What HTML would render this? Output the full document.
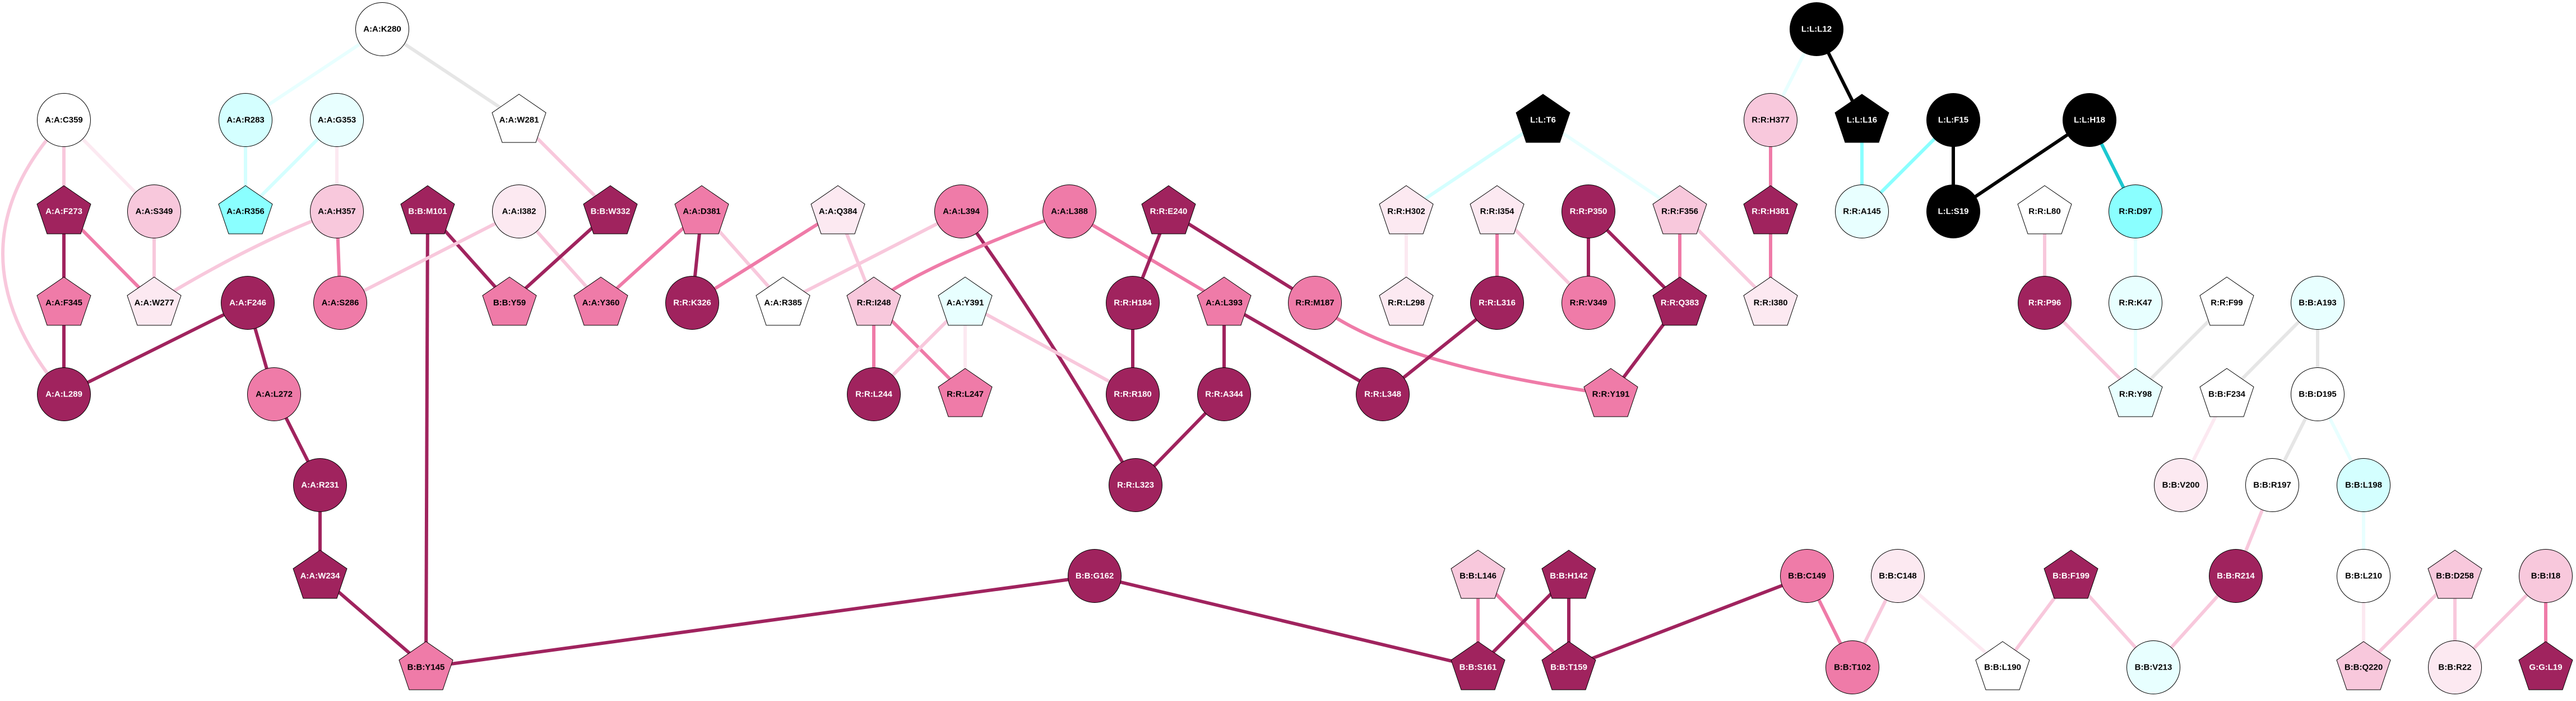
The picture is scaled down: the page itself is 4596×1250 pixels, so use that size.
<!DOCTYPE html>
<html><head><meta charset="utf-8"><style>
html,body{margin:0;padding:0;background:#fff;}
svg text{font-family:"Liberation Sans",Arial,sans-serif;font-weight:bold;font-size:15px;text-anchor:middle;dominant-baseline:central;}
</style></head><body>
<svg id="g" width="4596" height="1245" xmlns="http://www.w3.org/2000/svg"></svg>
<script>
const D='#A0235E',M='#EF7BA8',L='#F8C8DC',V='#FCE9F1',W='#FFFFFF',C='#8AFFFF',LC='#D4FFFF',VC='#E8FFFF',K='#000000',G='#E6E6E6',T='#1CC8D0';
const YM={48:52,198:214,348:377,499:540,649:703,799:865,949:1027,1099:1190};
const nodes=[
['A:A:K280',682,48,'c',W],['A:A:C359',114,198,'c',W],['A:A:R283',438,198,'c',LC],['A:A:G353',601,198,'c',VC],['A:A:W281',926,198,'p',W],
['A:A:F273',114,348,'p',D],['A:A:S349',275,348,'c',L],['A:A:R356',438,348,'p',C],['A:A:H357',601,348,'c',L],['B:B:M101',763,348,'p',D],['A:A:I382',926,348,'c',V],['B:B:W332',1089,348,'p',D],
['A:A:F345',114,499,'p',M],['A:A:W277',275,499,'p',V],['A:A:F246',442,499,'c',D],['A:A:S286',607,499,'c',M],['B:B:Y59',909,499,'p',M],['A:A:Y360',1072,499,'p',M],
['A:A:L289',114,649,'c',D],['A:A:L272',489,649,'c',M],['A:A:R231',571,799,'c',D],['A:A:W234',571,949,'p',D],['B:B:Y145',760,1099,'p',M],
['A:A:D381',1252,348,'p',M],['A:A:Q384',1495,348,'p',V],['A:A:L394',1715,348,'c',M],['A:A:L388',1908,348,'c',M],['R:R:E240',2085,348,'p',D],
['R:R:K326',1235,499,'c',D],['A:A:R385',1397,499,'p',W],['R:R:I248',1559,499,'p',L],['A:A:Y391',1722,499,'p',VC],['R:R:H184',2021,499,'c',D],['A:A:L393',2184,499,'p',M],
['R:R:L244',1559,649,'c',D],['R:R:L247',1722,649,'p',M],['R:R:R180',2021,649,'c',D],['R:R:A344',2184,649,'c',D],['R:R:L323',2026,799,'c',D],['B:B:G162',1953,949,'c',D],
['L:L:L12',3241,48,'c',K],['L:L:T6',2753,198,'p',K],['R:R:H377',3159,198,'c',L],['L:L:L16',3322,198,'p',K],
['R:R:H302',2509,348,'p',V],['R:R:I354',2671,348,'p',V],['R:R:P350',2834,348,'c',D],['R:R:F356',2997,348,'p',L],['R:R:H381',3159,348,'p',D],['R:R:A145',3322,348,'c',VC],
['R:R:M187',2346,499,'c',M],['R:R:L298',2509,499,'p',V],['R:R:L316',2671,499,'c',D],['R:R:V349',2834,499,'c',M],['R:R:Q383',2997,499,'p',D],['R:R:I380',3159,499,'p',V],
['R:R:L348',2467,649,'c',D],['R:R:Y191',2874,649,'p',M],
['B:B:L146',2637,949,'p',L],['B:B:H142',2799,949,'p',D],['B:B:C149',3224,949,'c',M],['B:B:C148',3386,949,'c',V],
['B:B:S161',2637,1099,'p',D],['B:B:T159',2799,1099,'p',D],['B:B:T102',3305,1099,'c',M],
['L:L:F15',3485,198,'c',K],['L:L:H18',3728,198,'c',K],['L:L:S19',3485,348,'c',K],['R:R:L80',3648,348,'p',W],['R:R:D97',3810,348,'c',C],
['R:R:P96',3648,499,'c',D],['R:R:K47',3810,499,'c',VC],['R:R:F99',3973,499,'p',W],['B:B:A193',4135,499,'c',VC],
['R:R:Y98',3810,649,'p',VC],['B:B:F234',3973,649,'p',W],['B:B:D195',4135,649,'c',W],
['B:B:V200',3891,799,'c',V],['B:B:R197',4054,799,'c',W],['B:B:L198',4217,799,'c',LC],
['B:B:F199',3695,949,'p',D],['B:B:R214',3989,949,'c',D],['B:B:L210',4217,949,'c',W],['B:B:D258',4380,949,'p',L],['B:B:I18',4542,949,'c',L],
['B:B:L190',3573,1099,'p',W],['B:B:V213',3842,1099,'c',VC],['B:B:Q220',4217,1099,'p',L],['B:B:R22',4380,1099,'c',V],['G:G:L19',4542,1099,'p',D]];
nodes.forEach(n=>n[2]=YM[n[2]]);
function f(k){for(const n of nodes){if(n[0]===k)return n;}return null;}
const E=[
['A:A:K280','A:A:R283',VC],['A:A:K280','A:A:W281',G],['A:A:C359','A:A:F273',L],['A:A:C359','A:A:S349',V],['A:A:C359','A:A:L289',L,-104,447],
['A:A:R283','A:A:R356',LC],['A:A:G353','A:A:R356',LC],['A:A:G353','A:A:H357',V],['A:A:W281','B:B:W332',L],['A:A:F273','A:A:F345',D],['A:A:F273','A:A:W277',M],
['A:A:S349','A:A:W277',L],['A:A:H357','A:A:W277',L,450,433],['A:A:H357','A:A:S286',M],['B:B:M101','B:B:Y59',D],['B:B:M101','B:B:Y145',D],
['A:A:I382','A:A:S286',L],['A:A:I382','A:A:Y360',L],['B:B:W332','B:B:Y59',D],['A:A:F345','A:A:L289',D],['A:A:F246','A:A:L289',D],['A:A:F246','A:A:L272',D],
['A:A:L272','A:A:R231',D],['A:A:R231','A:A:W234',D],['A:A:W234','B:B:Y145',D],['B:B:Y145','B:B:G162',D],
['A:A:D381','A:A:Y360',M],['A:A:D381','R:R:K326',D],['A:A:D381','A:A:R385',L],['A:A:Q384','R:R:K326',M],['A:A:Q384','R:R:I248',L],['A:A:L394','A:A:R385',L],
['A:A:L394','R:R:L323',D,1880,606],['A:A:L388','R:R:I248',M,1640,476],['A:A:L388','A:A:L393',M],['R:R:E240','R:R:H184',D],['R:R:E240','R:R:M187',D],
['R:R:I248','R:R:L244',M],['R:R:I248','R:R:L247',M],['A:A:Y391','R:R:L244',L],['A:A:Y391','R:R:L247',V],['A:A:Y391','R:R:R180',L],['R:R:H184','R:R:R180',D],
['A:A:L393','R:R:A344',D],['A:A:L393','R:R:L348',D],['R:R:A344','R:R:L323',D],['B:B:G162','B:B:S161',D],['R:R:M187','R:R:Y191',M,2480,650],
['R:R:H302','R:R:L298',V],['R:R:I354','R:R:L316',M],['R:R:I354','R:R:V349',L],['R:R:P350','R:R:V349',D],['R:R:P350','R:R:Q383',D],['R:R:F356','R:R:Q383',M],
['R:R:F356','R:R:I380',L],['L:L:T6','R:R:H302',LC],['L:L:T6','R:R:F356',VC],['R:R:L316','R:R:L348',D],['R:R:Q383','R:R:Y191',D],['R:R:H377','L:L:L12',VC],
['L:L:L12','L:L:L16',K],['R:R:H377','R:R:H381',M],['R:R:H381','R:R:I380',M],['L:L:L16','R:R:A145',C],['L:L:F15','R:R:A145',C],['L:L:F15','L:L:S19',K],
['L:L:H18','L:L:S19',K],['L:L:H18','R:R:D97',T],['B:B:L146','B:B:S161',M],['B:B:L146','B:B:T159',M],['B:B:H142','B:B:S161',D],['B:B:H142','B:B:T159',D],
['B:B:T159','B:B:C149',D],['B:B:C149','B:B:T102',M],['B:B:C148','B:B:T102',L],['B:B:C148','B:B:L190',V],['R:R:L80','R:R:P96',L],['R:R:D97','R:R:K47',VC],
['R:R:P96','R:R:Y98',L],['R:R:K47','R:R:Y98',VC],['R:R:F99','R:R:Y98',G],['B:B:A193','B:B:F234',G],['B:B:A193','B:B:D195',G],['B:B:F234','B:B:V200',V],
['B:B:D195','B:B:R197',G],['B:B:D195','B:B:L198',VC],['B:B:R197','B:B:R214',L],['B:B:L198','B:B:L210',VC],['B:B:F199','B:B:L190',L],['B:B:F199','B:B:V213',L],
['B:B:R214','B:B:V213',L],['B:B:L210','B:B:Q220',V],['B:B:D258','B:B:Q220',L],['B:B:D258','B:B:R22',L],['B:B:I18','B:B:R22',L],['B:B:I18','G:G:L19',M]];
let s='';
E.forEach(e=>{const a=f(e[0]),b=f(e[1]);if(!a||!b)return;
 if(e.length>3)s+=`<path d="M${a[1]},${a[2]} Q${e[3]},${e[4]} ${b[1]},${b[2]}" fill="none" stroke="${e[2]}" stroke-width="6"/>`;
 else s+=`<line x1="${a[1]}" y1="${a[2]}" x2="${b[1]}" y2="${b[2]}" stroke="${e[2]}" stroke-width="6"/>`;});
const dark=[D,K];
nodes.forEach(n=>{const [k,x,y,sh,c]=n;
 if(sh==='c')s+=`<ellipse cx="${x}" cy="${y}" rx="47.5" ry="47.5" fill="${c}" stroke="#000" stroke-width="1"/>`;
 else s+=`<polygon points="${x},${y-46} ${x+48},${y-13} ${x+30},${y+40} ${x-30},${y+40} ${x-48},${y-13}" fill="${c}" stroke="#000" stroke-width="1"/>`;
 s+=`<text x="${x}" y="${y}" fill="${dark.includes(c)?'#fff':'#000'}">${k}</text>`;});
document.getElementById('g').innerHTML=s;
</script>
</body></html>
